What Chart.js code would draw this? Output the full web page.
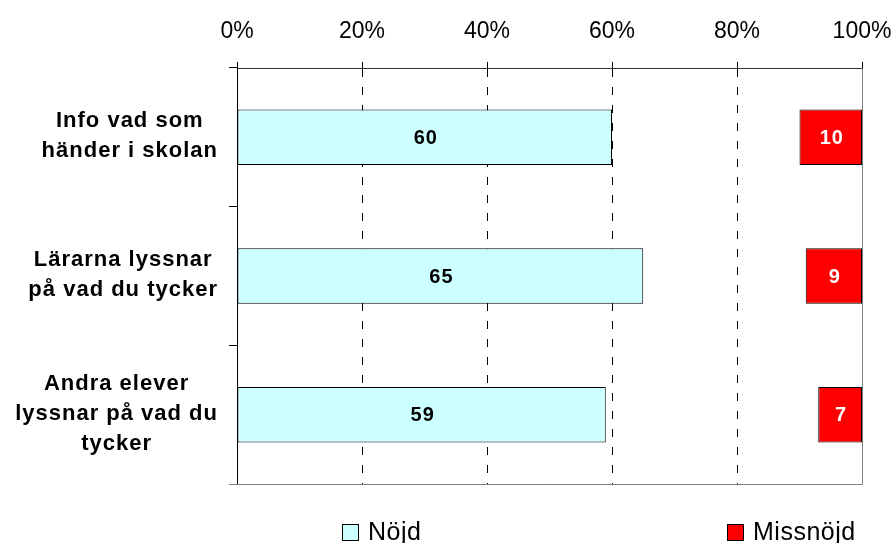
<!DOCTYPE html>
<html>
<head>
<meta charset="utf-8">
<script src="https://cdn.jsdelivr.net/npm/chart.js@4/dist/chart.umd.min.js"></script>
<style>
  html, body { margin: 0; padding: 0; background: #fff; }
  #wrap { width: 895px; height: 543px; }
</style>
</head>
<body>
<div id="wrap"><canvas id="chart"></canvas></div>
<script>
// data
const categories = [
    ['Info vad som', 'händer i skolan'],
    ['Lärarna lyssnar', 'på vad du tycker'],
    ['Andra elever', 'lyssnar på vad du', 'tycker']
];
const nojd = [60, 65, 59];
const mellan = [30, 26, 34];   // the unlabeled middle part, not drawn
const missnojd = [10, 9, 7];
const tickValues = [0, 20, 40, 60, 80, 100];

const FONT = 'Arial, "Liberation Sans", sans-serif';

// values inside the bars
const barLabels = {
    id: 'barLabels',
    afterDatasetsDraw(chart) {
        const ctx = chart.ctx;
        ctx.save();
        ctx.font = 'bold 20px ' + FONT;
        ctx.letterSpacing = '1px';
        ctx.textAlign = 'center';
        ctx.textBaseline = 'middle';
        chart.data.datasets.forEach((ds, i) => {
            if (!ds.showValue) return;
            chart.getDatasetMeta(i).data.forEach((bar, j) => {
                ctx.fillStyle = ds.valueColor;
                ctx.fillText(ds.data[j], (bar.x + bar.base) / 2 + 1, bar.y + 1);
            });
        });
        ctx.restore();
    }
};

// category names: each block right aligned, lines centred inside it (like Excel)
const categoryLabels = {
    id: 'categoryLabels',
    afterDraw(chart) {
        const y = chart.scales.y;
        const ctx = chart.ctx;
        ctx.save();
        ctx.font = 'bold 22px ' + FONT;
        ctx.letterSpacing = '1px';
        ctx.fillStyle = '#000';
        ctx.textAlign = 'center';
        ctx.textBaseline = 'middle';
        const lh = 30;
        const right = y.right - 19;
        categories.forEach((lines, i) => {
            const w = Math.max(...lines.map(l => ctx.measureText(l).width));
            const cx = right - w / 2;
            const cy = y.getPixelForValue(i) - 1;
            lines.forEach((l, k) => ctx.fillText(l, cx, cy + (k - (lines.length - 1) / 2) * lh));
        });
        ctx.restore();
    }
};

// right and bottom frame of the plot area
const frame = {
    id: 'frame',
    afterDraw(chart) {
        const a = chart.chartArea;
        const ctx = chart.ctx;
        ctx.save();
        ctx.strokeStyle = '#808080';
        ctx.lineWidth = 1;
        ctx.beginPath();
        ctx.moveTo(a.right + 0.5, a.top);
        ctx.lineTo(a.right + 0.5, a.bottom + 0.5);
        ctx.lineTo(a.left - 8, a.bottom + 0.5);
        ctx.stroke();
        ctx.restore();
    }
};

// legend spread like the original
const legendPos = [0.382, 0.812];
const spreadLegend = {
    id: 'spreadLegend',
    afterDraw(chart) {
        const ctx = chart.ctx;
        ctx.save();
        ctx.font = '25px ' + FONT;
        ctx.letterSpacing = '0.5px';
        ctx.textBaseline = 'alphabetic';
        let k = 0;
        chart.data.datasets.forEach(ds => {
            if (!ds.label) return;
            const x = Math.round(chart.width * legendPos[k++]);
            const y = 524;
            ctx.fillStyle = ds.backgroundColor;
            ctx.fillRect(x, y, 16, 16);
            ctx.strokeStyle = '#000';
            ctx.lineWidth = 1;
            ctx.strokeRect(x + 0.5, y + 0.5, 16, 16);
            ctx.fillStyle = '#000';
            ctx.fillText(ds.label, x + 26, y + 16);
        });
        ctx.restore();
    }
};

new Chart(document.getElementById('chart'), {
    type: 'bar',
    data: {
        labels: categories,
        datasets: [
            { label: 'Nöjd', data: nojd, backgroundColor: '#CCFFFF', borderColor: '#000', borderWidth: 1,
              borderSkipped: false, showValue: true, valueColor: '#000' },
            { label: '', data: mellan, backgroundColor: 'rgba(0,0,0,0)', borderWidth: 0 },
            { label: 'Missnöjd', data: missnojd, backgroundColor: '#FF0000', borderColor: '#000', borderWidth: 1,
              borderSkipped: false, showValue: true, valueColor: '#fff' }
        ]
    },
    options: {
        indexAxis: 'y',
        responsive: true,
        maintainAspectRatio: false,
        animation: false,
        barPercentage: 0.4,
        categoryPercentage: 1,
        layout: { padding: { left: 0, right: 33, top: 0, bottom: 59 } },
        plugins: {
            legend: { display: false },
            tooltip: { enabled: false }
        },
        scales: {
            x: {
                position: 'top',
                stacked: true,
                min: 0,
                max: 100,
                afterBuildTicks: scale => { scale.ticks = tickValues.map(v => ({ value: v })); },
                afterFit: scale => {
                    scale.height = 68;
                    scale.paddingLeft = 0;
                    scale.paddingRight = 0;
                },
                ticks: {
                    callback: v => v + '%',
                    color: '#000',
                    padding: 17,
                    font: { family: FONT, size: 23 }
                },
                grid: {
                    color: ctx => (ctx.index === 0 || ctx.index === tickValues.length - 1) ? 'rgba(0,0,0,0)' : '#000',
                    tickColor: '#000',
                    tickLength: 6,
                    tickBorderDash: []
                },
                border: { color: '#333', width: 1, dash: [8, 10] }
            },
            y: {
                stacked: true,
                afterFit: scale => { scale.width = 237; },
                ticks: { display: false },
                grid: {
                    drawOnChartArea: false,
                    tickColor: '#000',
                    tickLength: 8,
                    offset: true
                },
                border: { color: '#000', width: 1 }
            }
        }
    },
    plugins: [barLabels, categoryLabels, frame, spreadLegend]
});
</script>
</body>
</html>
